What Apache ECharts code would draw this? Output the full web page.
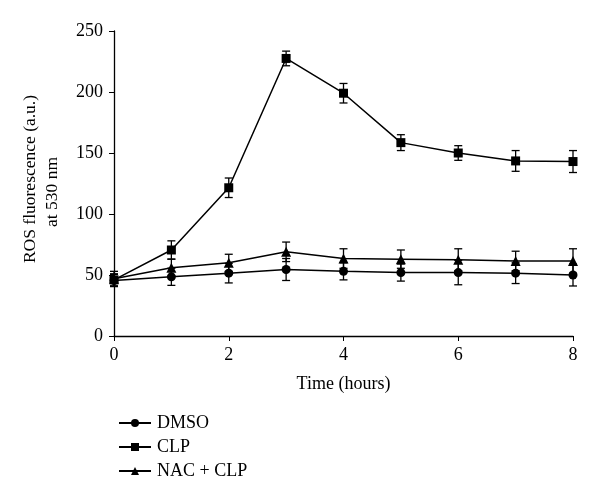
<!DOCTYPE html>
<html><head><meta charset="utf-8">
<script src="https://cdn.jsdelivr.net/npm/echarts@6/dist/echarts.min.js"></script>
<style>html,body{margin:0;padding:0;background:#fff}#c{width:600px;height:500px}</style>
</head><body><div id="c"></div>
<script>
const hours = [0, 1, 2, 3, 4, 5, 6, 7, 8];
const dmso = [45.5, 48.5, 51.5, 54.5, 53, 52, 52, 51.5, 50];
const dmsoErr = [5, 7, 8, 9, 7, 7, 10, 8.5, 9];
const clp = [46, 70.5, 121.5, 227.5, 199, 158.5, 150, 143.5, 143];
const clpErr = [5, 7.5, 8, 6, 8, 6.5, 6, 8.5, 9];
const nac = [47, 56, 60, 69, 63.5, 63, 62.5, 61.5, 61.5];
const nacErr = [6, 7, 7, 8, 8, 7.5, 9, 8, 10];
const yTicks = [0, 50, 100, 150, 200, 250];
const xTicks = [0, 2, 4, 6, 8];
const yTitle = ['ROS fluorescence (a.u.)', 'at 530 nm'];

const font = 'Liberation Serif';
function pairs(v) { return hours.map((h, i) => [h, v[i]]); }
function errData(v, e) { return hours.map((h, i) => [h, v[i] - e[i], v[i] + e[i]]); }
function errSeries(v, e) {
  return {
    type: 'custom', silent: true, z: 1,
    data: errData(v, e),
    renderItem: function (params, api) {
      const x = api.value(0);
      const lo = api.coord([x, api.value(1)]);
      const hi = api.coord([x, api.value(2)]);
      const w = 4;
      const st = { stroke: '#000', lineWidth: 1.3 };
      return { type: 'group', children: [
        { type: 'line', shape: { x1: lo[0], y1: lo[1], x2: hi[0], y2: hi[1] }, style: st },
        { type: 'line', shape: { x1: lo[0] - w, y1: lo[1], x2: lo[0] + w, y2: lo[1] }, style: st },
        { type: 'line', shape: { x1: hi[0] - w, y1: hi[1], x2: hi[0] + w, y2: hi[1] }, style: st }
      ]};
    }
  };
}
function lineSeries(name, v, sym, size) {
  return {
    name: name, type: 'line', data: pairs(v), symbol: sym, symbolSize: size, z: 3,
    lineStyle: { color: '#000', width: 1.5 }, itemStyle: { color: '#000' },
    showAllSymbol: true, animation: false
  };
}
const chart = echarts.init(document.getElementById('c'), null, { renderer: 'canvas' });
chart.setOption({
  animation: false,
  backgroundColor: '#fff',
  textStyle: { fontFamily: font, color: '#000' },
  grid: { left: 114, right: 27, top: 31, bottom: 164, containLabel: false },
  graphic: [
    { type: 'text', x: 30, y: 179, rotation: Math.PI / 2,
      style: { text: yTitle[0], font: '17.5px "Liberation Serif"', fill: '#000', align: 'center', verticalAlign: 'middle' } },
    { type: 'text', x: 52, y: 192, rotation: Math.PI / 2,
      style: { text: yTitle[1], font: '17.5px "Liberation Serif"', fill: '#000', align: 'center', verticalAlign: 'middle' } }
  ],
  legend: {
    orient: 'vertical', left: 113, top: 409, itemGap: 6, itemWidth: 32, itemHeight: 10,
    textStyle: { fontFamily: font, fontSize: 18, color: '#000', padding: [0, 0, 0, 1] },
    data: ['DMSO', 'CLP', 'NAC + CLP']
  },
  xAxis: {
    type: 'value', min: 0, max: 8, interval: 2,
    name: 'Time (hours)', nameLocation: 'middle', nameGap: 39,
    nameTextStyle: { fontFamily: font, fontSize: 18, color: '#000', verticalAlign: 'top' },
    axisLine: { lineStyle: { color: '#000', width: 1.3 } },
    axisTick: { show: true, length: 5, lineStyle: { color: '#000' } },
    axisLabel: { fontFamily: font, fontSize: 18, color: '#000', margin: 10,
      formatter: v => xTicks.includes(v) ? String(v) : '' },
    splitLine: { show: false }
  },
  yAxis: {
    type: 'value', min: 0, max: 250, interval: 50,
    axisLine: { show: true, lineStyle: { color: '#000', width: 1.3 } },
    axisTick: { show: true, length: 5, lineStyle: { color: '#000' } },
    axisLabel: { fontFamily: font, fontSize: 18, color: '#000', margin: 11,
      formatter: v => yTicks.includes(v) ? String(v) : '' },
    splitLine: { show: false }
  },
  series: [
    errSeries(dmso, dmsoErr),
    errSeries(clp, clpErr),
    errSeries(nac, nacErr),
    lineSeries('DMSO', dmso, 'circle', 9),
    lineSeries('CLP', clp, 'rect', 9),
    lineSeries('NAC + CLP', nac, 'triangle', 10)
  ]
});
</script></body></html>
